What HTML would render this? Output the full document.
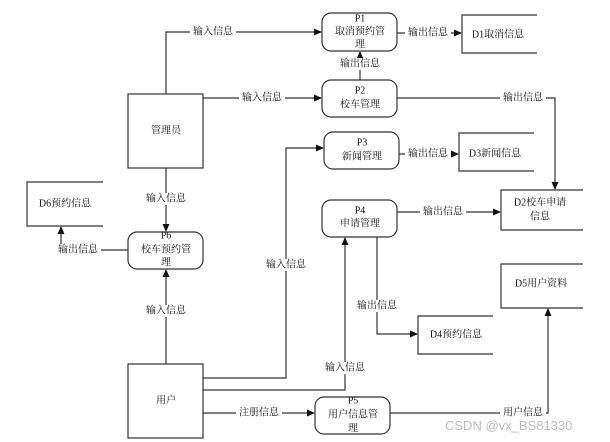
<!DOCTYPE html>
<html><head><meta charset="utf-8"><style>
html,body{margin:0;padding:0;background:#fff;}
svg{display:block;font-family:"Liberation Serif","Noto Serif CJK SC","Noto Sans CJK SC",serif;font-size:10px;}
.l{fill:none;stroke:#333;stroke-width:1.2}
.b{fill:#fff;stroke:#333;stroke-width:1.2}
.t{text-anchor:middle;dominant-baseline:middle;fill:#111}
.bg{fill:#fff}
</style></head><body>
<svg width="610" height="442" viewBox="0 0 610 442">
<defs><marker id="a" markerWidth="8" markerHeight="8" refX="7" refY="4" orient="auto" markerUnits="userSpaceOnUse"><path d="M0,0.5 L8,4 L0,7.5z" fill="#111"/></marker></defs>

<polyline class="l" points="166,94 166,32 321,32" marker-end="url(#a)"/>
<line class="l" x1="203" y1="98" x2="321" y2="98" marker-end="url(#a)"/>
<line class="l" x1="360" y1="80" x2="360" y2="52" marker-end="url(#a)"/>
<line class="l" x1="397" y1="33" x2="461" y2="33" marker-end="url(#a)"/>
<polyline class="l" points="397,98 555,98 555,189" marker-end="url(#a)"/>
<line class="l" x1="399" y1="154" x2="458" y2="154" marker-end="url(#a)"/>
<line class="l" x1="397" y1="212" x2="500" y2="212" marker-end="url(#a)"/>
<line class="l" x1="166" y1="168" x2="166" y2="231" marker-end="url(#a)"/>
<polyline class="l" points="128,250 61,250 61,227" marker-end="url(#a)"/>
<line class="l" x1="166" y1="364" x2="166" y2="270" marker-end="url(#a)"/>
<polyline class="l" points="203,378 286,378 286,148 323,148" marker-end="url(#a)"/>
<polyline class="l" points="203,390 345,390 345,238" marker-end="url(#a)"/>
<line class="l" x1="203" y1="413" x2="314" y2="413" marker-end="url(#a)"/>
<polyline class="l" points="390,413 548,413 548,309" marker-end="url(#a)"/>
<polyline class="l" points="377,237 377,334 417,334" marker-end="url(#a)"/>

<g>
<rect class="bg" x="190" y="26" width="46" height="12"/><text class="t" x="213" y="32">输入信息</text>
<rect class="bg" x="239" y="92" width="46" height="12"/><text class="t" x="262" y="98">输入信息</text>
<rect class="bg" x="337" y="58" width="46" height="12"/><text class="t" x="360" y="64">输出信息</text>
<rect class="bg" x="405" y="27" width="46" height="12"/><text class="t" x="428" y="33">输出信息</text>
<rect class="bg" x="500" y="92" width="46" height="12"/><text class="t" x="523" y="98">输出信息</text>
<rect class="bg" x="405" y="148" width="46" height="12"/><text class="t" x="428" y="154">输出信息</text>
<rect class="bg" x="420" y="206" width="46" height="12"/><text class="t" x="443" y="212">输出信息</text>
<rect class="bg" x="143" y="193" width="46" height="12"/><text class="t" x="166" y="199">输入信息</text>
<rect class="bg" x="55" y="244" width="46" height="12"/><text class="t" x="78" y="250">输出信息</text>
<rect class="bg" x="143" y="305" width="46" height="12"/><text class="t" x="166" y="311">输入信息</text>
<rect class="bg" x="263" y="259" width="46" height="12"/><text class="t" x="286" y="265">输入信息</text>
<rect class="bg" x="322" y="362" width="46" height="12"/><text class="t" x="345" y="368">输入信息</text>
<rect class="bg" x="236" y="407" width="46" height="12"/><text class="t" x="259" y="413">注册信息</text>
<rect class="bg" x="500" y="407" width="46" height="12"/><text class="t" x="523" y="413">用户信息</text>
<rect class="bg" x="354" y="300" width="46" height="12"/><text class="t" x="377" y="306">输出信息</text>
</g>

<rect class="b" x="128" y="94" width="75" height="74"/><text class="t" x="166" y="131">管理员</text>
<rect class="b" x="128" y="364" width="75" height="74"/><text class="t" x="166" y="401">用户</text>

<rect class="b" x="322" y="13" width="75" height="38" rx="9"/>
<text class="t" x="360" y="19">P1</text><text class="t" x="360" y="32">取消预约管</text><text class="t" x="360" y="45">理</text>
<rect class="b" x="322" y="80" width="75" height="37" rx="9"/>
<text class="t" x="360" y="91">P2</text><text class="t" x="360" y="105">校车管理</text>
<rect class="b" x="324" y="132" width="75" height="37" rx="9"/>
<text class="t" x="362" y="143">P3</text><text class="t" x="362" y="157">新闻管理</text>
<rect class="b" x="322" y="200" width="75" height="37" rx="9"/>
<text class="t" x="360" y="211">P4</text><text class="t" x="360" y="224">申请管理</text>
<rect class="b" x="128" y="232" width="75" height="37" rx="9"/>
<text class="t" x="166" y="236">P6</text><text class="t" x="166" y="250">校车预约管</text><text class="t" x="166" y="263">理</text>
<rect class="b" x="315" y="397" width="75" height="37" rx="9"/>
<text class="t" x="353" y="401">P5</text><text class="t" x="353" y="415">用户信息管</text><text class="t" x="353" y="429">理</text>

<g class="l">
<polyline points="537,15 462,15 462,53 537,53"/>
<polyline points="534,133 459,133 459,171 534,171"/>
<polyline points="583,190 501,190 501,230 583,230"/>
<polyline points="103,182 27,182 27,226 103,226"/>
<polyline points="583,264 501,264 501,308 583,308"/>
<polyline points="493,316 418,316 418,354 493,354"/>
</g>
<text class="t" x="498" y="35">D1取消信息</text>
<text class="t" x="495" y="154">D3新闻信息</text>
<text class="t" x="540" y="203">D2校车申请</text><text class="t" x="540" y="217">信息</text>
<text class="t" x="65" y="204">D6预约信息</text>
<text class="t" x="541" y="284">D5用户资料</text>
<text class="t" x="456" y="335">D4预约信息</text>

<text x="445" y="430" style="font-family:'Liberation Sans',sans-serif;font-size:13px;fill:#bbb">CSDN @vx_BS81330</text>
</svg>
</body></html>
